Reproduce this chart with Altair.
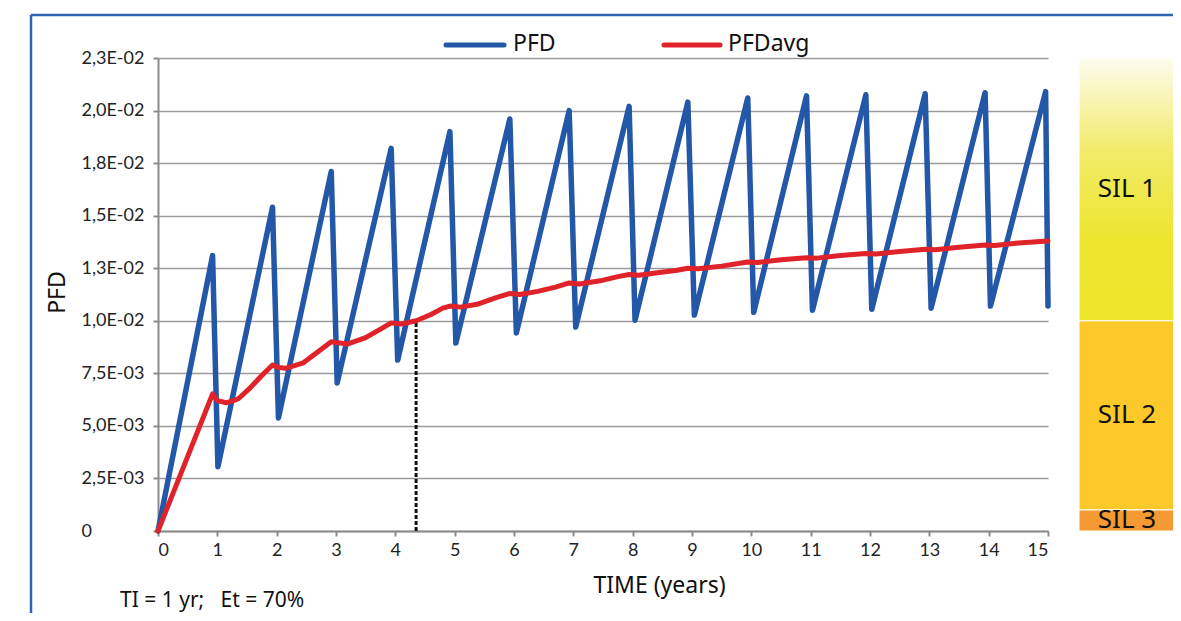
import altair as alt
import pandas as pd

# ---- data ----
peak_t = [0.92, 1.93, 2.92, 3.93, 4.92, 5.93, 6.93, 7.94, 8.93, 9.94, 10.93, 11.93, 12.93, 13.94, 14.96]
peak_v = [0.0131, 0.0154, 0.0171, 0.0182, 0.0190, 0.0196, 0.0200, 0.0202, 0.0204, 0.0206,
          0.0207, 0.02075, 0.0208, 0.02085, 0.0209]
trough_t = [1.01, 2.03, 3.02, 4.04, 5.02, 6.04, 7.04, 8.04, 9.04, 10.04, 11.03, 12.03, 13.03, 14.03, 15.0]
trough_v = [0.00306, 0.00538, 0.00704, 0.00813, 0.00894, 0.00942, 0.0097, 0.01003, 0.01027, 0.0104,
            0.0105, 0.01055, 0.0106, 0.0107, 0.0107]

red_t = [0, 0.92, 1.0, 1.15, 1.35, 1.55, 1.75, 1.93,
         2.03, 2.15, 2.45, 2.73, 2.92,
         3.03, 3.2, 3.5, 3.75, 3.93,
         4.1, 4.35, 4.6, 4.8, 4.92,
         5.1, 5.4, 5.7, 5.93,
         6.1, 6.4, 6.7, 6.93,
         7.1, 7.45, 7.75, 7.94,
         8.1, 8.45, 8.75, 8.93,
         9.1, 9.5, 9.94,
         10.1, 10.5, 10.93,
         11.1, 11.5, 11.93,
         12.1, 12.5, 12.93,
         13.1, 13.5, 13.94,
         14.1, 14.5, 15.0]
red_v = [0, 0.00652, 0.0062, 0.0061, 0.00628, 0.0068, 0.0074, 0.0079,
         0.00778, 0.00774, 0.0080, 0.0086, 0.0090,
         0.00895, 0.0089, 0.0092, 0.0096, 0.0099,
         0.00985, 0.0100, 0.0103, 0.0106, 0.0107,
         0.01065, 0.0108, 0.0111, 0.0113,
         0.01125, 0.0114, 0.0116, 0.0118,
         0.01175, 0.0119, 0.0121, 0.0122,
         0.01217, 0.0123, 0.0124, 0.0125,
         0.01248, 0.0126, 0.0128,
         0.01277, 0.0129, 0.0130,
         0.01298, 0.0131, 0.0132,
         0.01318, 0.0133, 0.0134,
         0.01338, 0.0135, 0.0136,
         0.01358, 0.0137, 0.0138]

y_ticks = [0, 0.0025, 0.005, 0.0075, 0.01, 0.0125, 0.015, 0.0175, 0.02, 0.0225]
y_labels = ["0", "2,5E-03", "5,0E-03", "7,5E-03", "1,0E-02", "1,3E-02", "1,5E-02", "1,8E-02",
            "2,0E-02", "2,3E-02"]
x_ticks = list(range(0, 16))

sil_names = ["SIL 1", "SIL 2", "SIL 3"]
sil_lo = [0.01, 0.001, 0.0]
sil_hi = [0.0225, 0.01, 0.001]
sil_colors = ["#ECE52A", "#FDC92A", "#F59A32"]

dash_t = [4.35]
dash_v = [0.01]

# ---- tables ----
blue_t = [0.0]
blue_v = [0.0]
for pt, pv, tt, tv in zip(peak_t, peak_v, trough_t, trough_v):
    blue_t += [pt, tt]
    blue_v += [pv, tv]
blue_df = pd.DataFrame({"t": blue_t, "v": blue_v, "o": list(range(len(blue_t)))})
red_df = pd.DataFrame({"t": red_t, "v": red_v, "o": list(range(len(red_t)))})
sil_df = pd.DataFrame({"name": sil_names, "lo": sil_lo, "hi": sil_hi, "c": sil_colors})
dash_df = pd.DataFrame({"t": dash_t, "v": dash_v})

BLUE = "#2357A8"
RED = "#E0222A"
TITLE_FONT = "Noto Sans"
LABEL_FONT = "Lato"

xs = alt.Scale(domain=[0, 15], nice=False)
ys = alt.Scale(domain=[0, 0.0225], nice=False)

label_expr = "[" + ",".join("'%s'" % s for s in y_labels) + "][round(datum.value/0.0025)]"

x_axis = alt.Axis(values=x_ticks, format="d", grid=False, title="TIME (years)", labelFont=LABEL_FONT,
                  labelFontSize=18, labelPadding=5, titleFont=TITLE_FONT, titleFontSize=23,
                  titleFontWeight="normal", titleX=501, titleY=54, titleBaseline="middle",
                  titleAlign="center", labelColor="#222", titleColor="#111")
y_axis = alt.Axis(values=y_ticks, labelExpr=label_expr, grid=True, title="PFD",
                  labelFont=LABEL_FONT, labelFontSize=18, labelAlign="left", labelPadding=72,
                  titleFont=TITLE_FONT, titleFontSize=23, titleFontWeight="normal",
                  titleX=-101, titleY=234, titleBaseline="middle", titleAlign="center",
                  titleAngle=270, labelColor="#222", titleColor="#111")

# SIL bands (drawn outside the plot, using the y scale)
sil1 = alt.Chart(sil_df).transform_filter(alt.datum.name == "SIL 1").mark_rect(
    color=alt.Gradient(gradient="linear", x1=0, x2=0, y1=0, y2=1,
                       stops=[alt.GradientStop(color="#FDFCF0", offset=0),
                              alt.GradientStop(color="#F1EB6A", offset=0.35),
                              alt.GradientStop(color="#ECE52C", offset=0.7),
                              alt.GradientStop(color="#ECE52A", offset=1)]),
    stroke="white", strokeWidth=1
).encode(x=alt.value(921), x2=alt.value(1018),
         y=alt.Y("lo:Q", scale=ys, axis=y_axis), y2="hi:Q")

sil23 = alt.Chart(sil_df).transform_filter(alt.datum.name != "SIL 1").mark_rect(
    stroke="white", strokeWidth=1
).encode(x=alt.value(921), x2=alt.value(1018),
         y=alt.Y("lo:Q", scale=ys), y2="hi:Q",
         color=alt.Color("c:N", scale=None))

sil_text = alt.Chart(sil_df).transform_calculate(mid="(datum.lo + datum.hi) / 2").mark_text(
    font=TITLE_FONT, fontSize=26, color="#111", baseline="middle", align="center"
).encode(x=alt.value(969), y=alt.Y("mid:Q", scale=ys), text="name:N")

dash = alt.Chart(dash_df).transform_calculate(zero="0").mark_rule(
    color="#111", strokeWidth=3, strokeDash=[4, 2]).encode(
    x=alt.X("t:Q", scale=xs, axis=x_axis), y=alt.Y("zero:Q", scale=ys), y2="v:Q")

blue = alt.Chart(blue_df).mark_line(color=BLUE, strokeWidth=5.5, strokeJoin="round",
                                    strokeCap="round").encode(
    x=alt.X("t:Q", scale=xs), y=alt.Y("v:Q", scale=ys), order="o:Q")

red = alt.Chart(red_df).mark_line(color=RED, strokeWidth=5, strokeJoin="round",
                                  strokeCap="round").encode(
    x=alt.X("t:Q", scale=xs), y=alt.Y("v:Q", scale=ys), order="o:Q")

# legend (manual)
leg_df = pd.DataFrame({"k": ["PFD", "PFDavg"], "c": [BLUE, RED]})
leg_blue = alt.Chart(leg_df).transform_filter(alt.datum.k == "PFD").mark_rule(
    color=BLUE, strokeWidth=5, strokeCap="round").encode(
    x=alt.value(288), x2=alt.value(346), y=alt.value(-13))
leg_red = alt.Chart(leg_df).transform_filter(alt.datum.k == "PFDavg").mark_rule(
    color=RED, strokeWidth=5, strokeCap="round").encode(
    x=alt.value(506), x2=alt.value(562), y=alt.value(-13))
leg_t1 = alt.Chart(leg_df).transform_filter(alt.datum.k == "PFD").mark_text(
    font=TITLE_FONT, fontSize=23, align="left", baseline="middle", color="#111").encode(
    x=alt.value(355), y=alt.value(-14), text="k:N")
leg_t2 = alt.Chart(leg_df).transform_filter(alt.datum.k == "PFDavg").mark_text(
    font=TITLE_FONT, fontSize=23, align="left", baseline="middle", color="#111").encode(
    x=alt.value(570), y=alt.value(-14), text="k:N")

# frame + note
frame_l = alt.Chart(leg_df).transform_filter(alt.datum.k == "PFD").mark_rule(
    color="#2F64B3", strokeWidth=2.5).encode(x=alt.value(-127), y=alt.value(-43), y2=alt.value(620))
frame_t = alt.Chart(leg_df).transform_filter(alt.datum.k == "PFD").mark_rule(
    color="#2F64B3", strokeWidth=2.5).encode(x=alt.value(-127), x2=alt.value(1100), y=alt.value(-43))
note = alt.Chart(leg_df).transform_filter(alt.datum.k == "PFD").mark_text(
    font=TITLE_FONT, fontSize=21, align="left", baseline="middle", color="#111",
    text="TI = 1 yr;\u00a0\u00a0\u00a0Et = 70%").encode(x=alt.value(-38), y=alt.value(543))

chart = alt.layer(
    sil1, sil23, sil_text, dash, blue, red,
    leg_blue, leg_red, leg_t1, leg_t2, frame_l, frame_t, note
).properties(
    width=890, height=473,
    autosize=alt.AutoSizeParams(type="none"),
    padding={"left": 150, "top": 50, "right": 125, "bottom": 82},
    background="white"
).configure_view(stroke=None).configure_axis(
    domainColor="#8C8C8C", domainWidth=2, tickColor="#8C8C8C", tickWidth=2, tickSize=5,
    gridColor="#9A9A9A", gridWidth=1.5
)

chart.save("out.html", embed_options={"renderer": "svg", "actions": False})
